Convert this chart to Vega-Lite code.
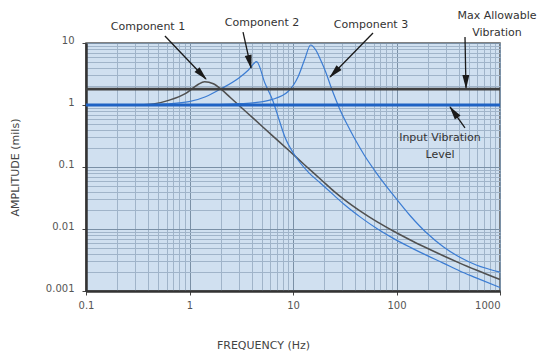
{
  "$schema": "https://vega.github.io/schema/vega-lite/v6.json",
  "width": 414,
  "height": 248,
  "autosize": {"type": "none"},
  "padding": {"left": 86, "top": 43, "right": 40, "bottom": 65},
  "background": "white",
  "config": {
    "view": {"fill": "#d0e0f0", "stroke": "#5a5a5a", "strokeWidth": 1.5},
    "font": "DejaVu Sans"
  },
  "datasets": {
    "curves": [
      {"s": "Component 1", "f": 0.33, "a": 1.0},
      {"s": "Component 1", "f": 0.45, "a": 1.04},
      {"s": "Component 1", "f": 0.64, "a": 1.2},
      {"s": "Component 1", "f": 0.92, "a": 1.54},
      {"s": "Component 1", "f": 1.19, "a": 2.1},
      {"s": "Component 1", "f": 1.4, "a": 2.38},
      {"s": "Component 1", "f": 1.7, "a": 2.2},
      {"s": "Component 1", "f": 2.06, "a": 1.75},
      {"s": "Component 1", "f": 2.48, "a": 1.32},
      {"s": "Component 1", "f": 2.98, "a": 1.0},
      {"s": "Component 1", "f": 4.3, "a": 0.575},
      {"s": "Component 1", "f": 6.2, "a": 0.33},
      {"s": "Component 1", "f": 8.96, "a": 0.19},
      {"s": "Component 1", "f": 12.9, "a": 0.109},
      {"s": "Component 1", "f": 18.7, "a": 0.0624},
      {"s": "Component 1", "f": 25.1, "a": 0.04},
      {"s": "Component 1", "f": 31.3, "a": 0.0297},
      {"s": "Component 1", "f": 45.1, "a": 0.0192},
      {"s": "Component 1", "f": 65.1, "a": 0.013},
      {"s": "Component 1", "f": 94, "a": 0.0092},
      {"s": "Component 1", "f": 136, "a": 0.00665},
      {"s": "Component 1", "f": 196, "a": 0.00493},
      {"s": "Component 1", "f": 283, "a": 0.0037},
      {"s": "Component 1", "f": 408, "a": 0.00282},
      {"s": "Component 1", "f": 589, "a": 0.00218},
      {"s": "Component 1", "f": 1000, "a": 0.00153},
      {"s": "Component 2", "f": 0.33, "a": 1.0},
      {"s": "Component 2", "f": 0.6, "a": 1.04},
      {"s": "Component 2", "f": 0.99, "a": 1.13},
      {"s": "Component 2", "f": 1.43, "a": 1.36},
      {"s": "Component 2", "f": 2.06, "a": 1.86},
      {"s": "Component 2", "f": 2.98, "a": 2.7},
      {"s": "Component 2", "f": 3.71, "a": 3.67},
      {"s": "Component 2", "f": 4.45, "a": 5.0},
      {"s": "Component 2", "f": 5.36, "a": 2.24},
      {"s": "Component 2", "f": 6.44, "a": 1.13},
      {"s": "Component 2", "f": 7.18, "a": 0.648},
      {"s": "Component 2", "f": 8.33, "a": 0.308},
      {"s": "Component 2", "f": 10.4, "a": 0.155},
      {"s": "Component 2", "f": 13.9, "a": 0.0842},
      {"s": "Component 2", "f": 18.7, "a": 0.0538},
      {"s": "Component 2", "f": 25.1, "a": 0.0345},
      {"s": "Component 2", "f": 31.3, "a": 0.0248},
      {"s": "Component 2", "f": 45.1, "a": 0.0154},
      {"s": "Component 2", "f": 65.1, "a": 0.0101},
      {"s": "Component 2", "f": 94, "a": 0.007},
      {"s": "Component 2", "f": 136, "a": 0.00506},
      {"s": "Component 2", "f": 196, "a": 0.00375},
      {"s": "Component 2", "f": 283, "a": 0.00282},
      {"s": "Component 2", "f": 408, "a": 0.0021},
      {"s": "Component 2", "f": 589, "a": 0.00163},
      {"s": "Component 2", "f": 1000, "a": 0.00114},
      {"s": "Component 3", "f": 0.33, "a": 1.0},
      {"s": "Component 3", "f": 1.0, "a": 1.0},
      {"s": "Component 3", "f": 1.72, "a": 1.01},
      {"s": "Component 3", "f": 3.0, "a": 1.05},
      {"s": "Component 3", "f": 4.3, "a": 1.09},
      {"s": "Component 3", "f": 6.2, "a": 1.22},
      {"s": "Component 3", "f": 8.96, "a": 1.65},
      {"s": "Component 3", "f": 11.2, "a": 2.86},
      {"s": "Component 3", "f": 12.9, "a": 5.3},
      {"s": "Component 3", "f": 14.8, "a": 9.29},
      {"s": "Component 3", "f": 16.6, "a": 7.71},
      {"s": "Component 3", "f": 18.5, "a": 5.32},
      {"s": "Component 3", "f": 20.7, "a": 3.41},
      {"s": "Component 3", "f": 23.1, "a": 2.03},
      {"s": "Component 3", "f": 25.8, "a": 1.25},
      {"s": "Component 3", "f": 28.8, "a": 0.8},
      {"s": "Component 3", "f": 33.6, "a": 0.476},
      {"s": "Component 3", "f": 40.1, "a": 0.272},
      {"s": "Component 3", "f": 48.9, "a": 0.155},
      {"s": "Component 3", "f": 65.1, "a": 0.077},
      {"s": "Component 3", "f": 94.6, "a": 0.0341},
      {"s": "Component 3", "f": 135, "a": 0.0165},
      {"s": "Component 3", "f": 196, "a": 0.0086},
      {"s": "Component 3", "f": 285, "a": 0.00513},
      {"s": "Component 3", "f": 405, "a": 0.00353},
      {"s": "Component 3", "f": 589, "a": 0.00263},
      {"s": "Component 3", "f": 1000, "a": 0.00202}
    ],
    "refs": [
      {"name": "Max Allowable Vibration", "f": 0.1, "f2": 1000, "a": 1.8},
      {"name": "Input Vibration Level", "f": 0.1, "f2": 1000, "a": 1.0}
    ],
    "arrows": [
      {"f": 0.579, "a": 12.97, "f2": 1.44, "a2": 2.63},
      {"f": 3.29, "a": 15.0, "f2": 3.93, "a2": 3.95},
      {"f": 59.3, "a": 14.5, "f2": 22.8, "a2": 2.83},
      {"f": 459, "a": 12.5, "f2": 469, "a2": 1.9},
      {"f": 459, "a": 0.426, "f2": 329, "a2": 0.929}
    ],
    "heads": [
      {"f": 1.318, "a": 3.08, "ang": 136},
      {"f": 3.82, "a": 4.92, "ang": 167},
      {"f": 25.0, "a": 3.32, "ang": 224},
      {"f": 469, "a": 2.35, "ang": 179},
      {"f": 356, "a": 0.774, "ang": 324}
    ],
    "labels": [
      {"t": "Component 1", "f": 0.397, "a": 18.1},
      {"t": "Component 2", "f": 5.02, "a": 21.0},
      {"t": "Component 3", "f": 56.7, "a": 19.5},
      {"t": "Max Allowable", "f": 935, "a": 27.3},
      {"t": "Vibration", "f": 935, "a": 14.5},
      {"t": "Input Vibration", "f": 263, "a": 0.299},
      {"t": "Level", "f": 263, "a": 0.156}
    ]
  },
  "encoding": {
    "x": {
      "field": "f",
      "type": "quantitative",
      "scale": {"type": "log", "domain": [0.1, 1000], "nice": false},
      "axis": {
        "values": [0.1, 0.2, 0.3, 0.4, 0.5, 0.6, 0.7, 0.8, 0.9, 1, 2, 3, 4, 5, 6, 7, 8, 9, 10, 20, 30, 40, 50, 60, 70, 80, 90, 100, 200, 300, 400, 500, 600, 700, 800, 900, 1000],
        "format": "~g",
        "labelExpr": "(datum.value == 0.1 || datum.value == 1 || datum.value == 10 || datum.value == 100 || datum.value == 1000) ? datum.label : ''",
        "labelAlign": {"condition": {"test": "datum.value == 1000", "value": "right"}, "value": "center"},
        "labelFlush": false,
        "labelOverlap": false,
        "labelFontSize": 10,
        "labelColor": "#555555",
        "labelPadding": 5,
        "tickSize": 4,
        "tickColor": {"condition": {"test": "datum.value == 0.1 || datum.value == 1 || datum.value == 10 || datum.value == 100 || datum.value == 1000", "value": "#444444"}, "value": "rgba(0,0,0,0)"},
        "grid": true,
        "gridColor": {"condition": {"test": "datum.value == 0.1 || datum.value == 1 || datum.value == 10 || datum.value == 100 || datum.value == 1000", "value": "#7a90a6"}, "value": "#a0b4c9"},
        "gridWidth": 1,
        "domainColor": "#333333",
        "domainWidth": 2.5,
        "title": "FREQUENCY (Hz)",
        "titleFontSize": 11,
        "titleFontWeight": "normal",
        "titleColor": "#444444",
        "titleX": 177,
        "titleY": 54,
        "titleBaseline": "middle",
        "titleAlign": "center"
      }
    },
    "y": {
      "field": "a",
      "type": "quantitative",
      "scale": {"type": "log", "domain": [0.001, 10], "nice": false},
      "axis": {
        "values": [0.001, 0.002, 0.003, 0.004, 0.005, 0.006, 0.007, 0.008, 0.009, 0.01, 0.02, 0.03, 0.04, 0.05, 0.06, 0.07, 0.08, 0.09, 0.1, 0.2, 0.3, 0.4, 0.5, 0.6, 0.7, 0.8, 0.9, 1, 2, 3, 4, 5, 6, 7, 8, 9, 10],
        "format": "~g",
        "labelExpr": "(datum.value == 0.001 || datum.value == 0.01 || datum.value == 0.1 || datum.value == 1 || datum.value == 10) ? datum.label : ''",
        "labelFlush": false,
        "labelOverlap": false,
        "labelFontSize": 10,
        "labelColor": "#555555",
        "labelPadding": 8,
        "labelOffset": -3,
        "tickSize": 4,
        "tickColor": {"condition": {"test": "datum.value == 0.001 || datum.value == 0.01 || datum.value == 0.1 || datum.value == 1 || datum.value == 10", "value": "#444444"}, "value": "rgba(0,0,0,0)"},
        "grid": true,
        "gridColor": {"condition": {"test": "datum.value == 0.001 || datum.value == 0.01 || datum.value == 0.1 || datum.value == 1 || datum.value == 10", "value": "#7a90a6"}, "value": "#a0b4c9"},
        "gridWidth": 1,
        "domainColor": "#333333",
        "domainWidth": 2.5,
        "title": "AMPLITUDE (mils)",
        "titleFontSize": 11,
        "titleFontWeight": "normal",
        "titleColor": "#444444",
        "titleX": -71,
        "titleY": 124,
        "titleBaseline": "middle",
        "titleAlign": "center"
      }
    }
  },
  "layer": [
    {
      "data": {"name": "curves"},
      "transform": [{"filter": "datum.s == 'Component 1'"}],
      "mark": {"type": "line", "color": "#505050", "strokeWidth": 1.5, "interpolate": "monotone"}
    },
    {
      "data": {"name": "curves"},
      "transform": [{"filter": "datum.s != 'Component 1'"}],
      "mark": {"type": "line", "color": "#3b7cd3", "strokeWidth": 1.2, "interpolate": "monotone"},
      "encoding": {"detail": {"field": "s", "type": "nominal"}}
    },
    {
      "data": {"name": "refs"},
      "mark": {"type": "rule", "strokeWidth": 2.8},
      "encoding": {
        "x2": {"field": "f2"},
        "color": {"field": "name", "type": "nominal", "scale": {"domain": ["Max Allowable Vibration", "Input Vibration Level"], "range": ["#404040", "#1f63c4"]}, "legend": null}
      }
    },
    {
      "data": {"name": "arrows"},
      "mark": {"type": "rule", "color": "#1a1a1a", "strokeWidth": 1.3},
      "encoding": {"x2": {"field": "f2"}, "y2": {"field": "a2"}}
    },
    {
      "data": {"name": "heads"},
      "mark": {"type": "point", "shape": "M0,-1L0.5,1L-0.5,1Z", "filled": true, "color": "#1a1a1a", "opacity": 1, "size": 196},
      "encoding": {"angle": {"field": "ang", "type": "quantitative", "scale": null}}
    },
    {
      "data": {"name": "labels"},
      "mark": {"type": "text", "fontSize": 11, "color": "#333333", "align": "center", "baseline": "middle"},
      "encoding": {"text": {"field": "t"}}
    }
  ]
}
